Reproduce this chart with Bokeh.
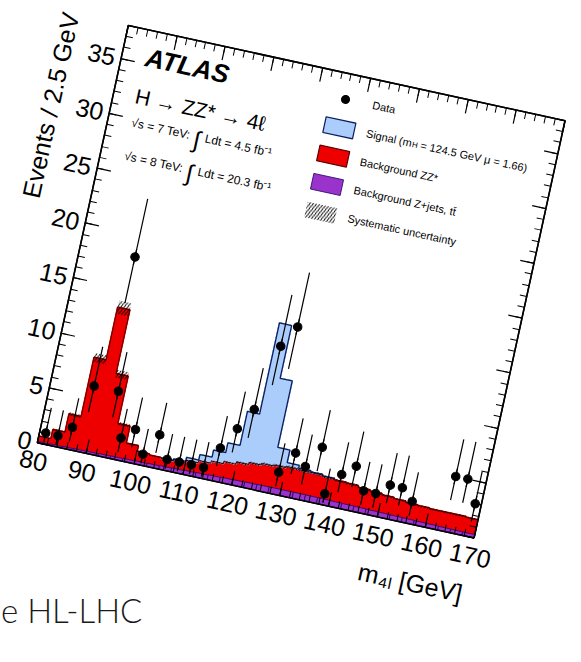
import numpy as np
from bokeh.plotting import figure
from bokeh.models import (Range1d, LinearAxis, SingleIntervalTicker, Label, Title,
                          Legend, LegendItem, InlineStyleSheet, CustomLabelingPolicy, Div)
from bokeh.embed import file_html
from bokeh.resources import INLINE

# ---------------- data ----------------
bin_centers = [81.25, 83.75, 86.25, 88.75, 91.25, 93.75, 96.25, 98.75, 101.25,
               103.75, 106.25, 108.75, 111.25, 113.75, 116.25, 118.75, 121.25,
               123.75, 126.25, 128.75, 131.25, 133.75, 136.25, 138.75, 141.25,
               143.75, 146.25, 148.75, 151.25, 153.75, 156.25, 158.75, 161.25,
               163.75, 166.25, 168.75]
bin_width = 2.5

data_counts = [1, 1, 2, 6, 18, 6, 2, 3, 1, 3, 1, 1, 1, 1, 3, 5, 7, 13, 15, 2, 4,
               3, 5, 1, 3, 4, 2, 2, 3, 3, 2, 0, 0, 5, 5, 3]
data_err_low = [0.83, 0.83, 1.29, 2.38, 4.21, 2.38, 1.29, 1.63, 0.83, 1.63, 0.83,
                0.83, 0.83, 0.83, 1.63, 2.16, 2.58, 3.55, 3.83, 1.29, 1.91, 1.63,
                2.16, 0.83, 1.63, 1.91, 1.29, 1.29, 1.63, 1.63, 1.29, 0, 0, 2.16,
                2.16, 1.63]
data_err_high = [2.30, 2.30, 2.64, 3.58, 5.30, 3.58, 2.64, 2.92, 2.30, 2.92, 2.30,
                 2.30, 2.30, 2.30, 2.92, 3.38, 3.77, 4.67, 4.95, 2.64, 3.16, 2.92,
                 3.38, 2.30, 2.92, 3.16, 2.64, 2.64, 2.92, 2.92, 2.64, 0, 0, 3.38,
                 3.38, 2.92]

bkg_zjets = [0.12, 0.14, 0.16, 0.18, 0.20, 0.22, 0.24, 0.26, 0.28, 0.30, 0.33,
             0.36, 0.39, 0.42, 0.45, 0.48, 0.50, 0.52, 0.54, 0.55, 0.55, 0.55,
             0.54, 0.53, 0.51, 0.49, 0.47, 0.45, 0.43, 0.41, 0.39, 0.37, 0.35,
             0.33, 0.31, 0.30]
bkg_zz = [0.48, 1.31, 2.94, 8.32, 13.10, 7.28, 2.96, 1.39, 0.87, 0.75, 0.67,
          0.74, 0.91, 1.08, 1.25, 1.42, 1.60, 1.78, 1.91, 2.00, 2.10, 2.05, 2.06,
          1.97, 1.89, 1.86, 1.73, 1.65, 1.57, 1.49, 1.41, 1.38, 1.35, 1.37, 1.39,
          1.35]
signal = [0, 0, 0, 0, 0, 0, 0, 0, 0, 0, 0.03, 0.08, 0.25, 0.55, 1.00, 1.70,
          4.60, 12.70, 7.75, 1.60, 0.35, 0.15, 0.05, 0.02, 0, 0, 0, 0, 0, 0, 0,
          0, 0, 0, 0, 0]
syst_unc = [0.03, 0.07, 0.15, 0.40, 0.60, 0.35, 0.15, 0.08, 0.06, 0.05, 0.05,
            0.05, 0.06, 0.07, 0.08, 0.09, 0.10, 0.11, 0.12, 0.12, 0.13, 0.13,
            0.13, 0.12, 0.12, 0.12, 0.11, 0.10, 0.10, 0.10, 0.09, 0.09, 0.09,
            0.09, 0.09, 0.08]

x_ticks_major = 10
y_ticks_major = 5

# ---------------- style ----------------
RED = "#ee0000"
RED_LINE = "#5a0000"
BLUE = "#abcdfb"
NAVY = "#0c1d5e"
PURPLE = "#9a33cc"
PURPLE_LINE = "#2a0a6a"
FONT = "Liberation Sans"

FW, FH = 447, 427
ML, MB, MT, MR = 85, 85, 10, 10

p = figure(frame_width=FW, frame_height=FH, min_border_left=ML, min_border_bottom=MB,
           min_border_top=MT, min_border_right=MR,
           x_range=Range1d(80, 170), y_range=Range1d(0, 38),
           output_backend="svg", toolbar_location=None, x_axis_location=None,
           y_axis_location=None)
p.grid.visible = False
p.outline_line_color = "black"
p.outline_line_width = 1.5
p.background_fill_color = "white"
p.border_fill_color = "white"

hide_labels = CustomLabelingPolicy(code="""
try { for (const i of Array.from(indices)) { indices.unset(i) } } catch (e) {}
return indices
""")


def make_axis(kind, ticker_interval, show_labels):
    ax = LinearAxis(ticker=SingleIntervalTicker(interval=ticker_interval, num_minor_ticks=5))
    ax.major_tick_in = 14
    ax.major_tick_out = 0
    ax.minor_tick_in = 7
    ax.minor_tick_out = 0
    ax.axis_line_color = "black"
    ax.axis_line_width = 1.5
    ax.major_tick_line_width = 1.2
    ax.minor_tick_line_width = 1.0
    ax.major_label_text_font = FONT
    if show_labels:
        ax.major_label_text_font_size = "25px"
        ax.major_label_text_color = "black"
        ax.major_label_standoff = 9 if kind == "x" else 6
    else:
        ax.major_label_policy = hide_labels
        ax.major_label_text_font_size = "1px"
        ax.major_label_standoff = 0
    return ax


p.add_layout(make_axis("x", x_ticks_major, True), "below")
p.add_layout(make_axis("x", x_ticks_major, False), "above")
p.add_layout(make_axis("y", y_ticks_major, True), "left")
p.add_layout(make_axis("y", y_ticks_major, False), "right")

p.add_layout(Title(text="Events / 2.5 GeV", align="right", text_font=FONT,
                   text_font_size="25px", text_font_style="normal", text_color="black",
                   standoff=16), "left")
p.add_layout(Title(text="m\u2084\u2097 [GeV]", align="right", text_font=FONT,
                   text_font_size="25px", text_font_style="normal", text_color="black",
                   standoff=22), "below")

# ---------------- stacked histograms ----------------
c = np.array(bin_centers)
left = c - bin_width / 2
right = c + bin_width / 2
zj = np.array(bkg_zjets)
zz = np.array(bkg_zz)
sg = np.array(signal)
unc = np.array(syst_unc)
b_zj = zj
b_bkg = zj + zz
b_tot = b_bkg + sg
has_sig = sg > 0

# outlined versions (legend swatches); their inner edges get covered by the fills below
r_sig_leg = p.quad(left=left[has_sig], right=right[has_sig], bottom=b_bkg[has_sig],
                   top=b_tot[has_sig], fill_color=BLUE, line_color=NAVY, line_width=1.2)
r_zz_leg = p.quad(left=left, right=right, bottom=b_zj, top=b_bkg, fill_color=RED,
                  line_color=RED_LINE, line_width=1.2)

p.quad(left=left, right=right, bottom=0, top=b_bkg, fill_color=RED, line_color=RED,
       line_width=1.8)
p.quad(left=left[has_sig], right=right[has_sig], bottom=b_bkg[has_sig],
       top=b_tot[has_sig], fill_color=BLUE, line_color=BLUE, line_width=1.8)
r_zj = p.quad(left=left, right=right, bottom=0, top=b_zj, fill_color=PURPLE,
              line_color=PURPLE_LINE, line_width=0.8)


def step_xy(lft, rgt, vals):
    xs, ys = [], []
    for l_, r_, v in zip(lft, rgt, vals):
        xs += [l_, r_]
        ys += [v, v]
    return xs, ys


xs, ys = step_xy(left, right, b_bkg)
p.line(xs, ys, line_color=RED_LINE, line_width=1.0)
idx = np.where(has_sig)[0]
xs, ys = step_xy(left[idx], right[idx], b_tot[idx])
xs = [xs[0]] + xs + [xs[-1]]
ys = [b_bkg[idx[0]]] + ys + [b_bkg[idx[-1]]]
p.line(xs, ys, line_color=NAVY, line_width=1.3)

r_unc = p.quad(left=left, right=right, bottom=b_bkg - unc, top=b_bkg + unc,
               fill_color=None, line_color=None, hatch_pattern="/", hatch_color="black",
               hatch_scale=6, hatch_weight=1.0)

# ---------------- data ----------------
cnt = np.array(data_counts, dtype=float)
el = np.array(data_err_low)
eh = np.array(data_err_high)
m = cnt > 0
p.segment(x0=c[m], y0=(cnt - el)[m], x1=c[m], y1=(cnt + eh)[m], line_color="black",
          line_width=1.2)
# short vertical dashes hidden inside the error bars (give the legend its bar)
r_data_bar = p.scatter(c[m], cnt[m], marker="dash", angle=np.pi / 2, size=16,
                       line_color="black", line_width=1.2)
r_data = p.scatter(c[m], cnt[m], size=8.5, color="black")

# ---------------- legend ----------------
legend = Legend(items=[
    LegendItem(label="Data", renderers=[r_data_bar, r_data]),
    LegendItem(label="Signal (m   = 124.5 GeV \u03bc = 1.66)", renderers=[r_sig_leg]),
    LegendItem(label="Background ZZ*", renderers=[r_zz_leg]),
    LegendItem(label="Background Z+jets, tt\u0304", renderers=[r_zj]),
    LegendItem(label="Systematic uncertainty", renderers=[r_unc]),
], location=(209, 275), orientation="vertical", glyph_width=38, glyph_height=20,
    label_height=20, spacing=9, padding=0, margin=0, label_standoff=9,
    border_line_alpha=0, background_fill_alpha=0, label_text_font=FONT,
    label_text_font_size="11px", label_text_color="black")
p.add_layout(legend)


def lab(text, x, y, size, style="normal", align="left", baseline="alphabetic"):
    p.add_layout(Label(text=text, x=x, y=y, x_units="screen", y_units="screen",
                       text_font=FONT, text_font_size=size, text_font_style=style,
                       text_align=align, text_baseline=baseline, text_color="black"))


lab("H", 302.5, FH - 56, "8px")
lab("ATLAS", 24, FH - 27, "26px", "bold italic")
lab("H \u2192 ZZ* \u2192 4\u2113", 22, FH - 67, "21px")
lab("\u221as = 7 TeV:", 24, FH - 94, "12px")
lab("\u222b", 88, FH - 97, "24px")
lab("Ldt = 4.5 fb\u207b\u00b9", 99, FH - 94, "12px")
lab("\u221as = 8 TeV:", 24, FH - 128, "12px")
lab("\u222b", 88, FH - 131, "24px")
lab("Ldt = 20.3 fb\u207b\u00b9", 99, FH - 128, "12px")

# ---------------- rotation of the whole plot element ----------------
ANG = 12.3
p.stylesheets = [InlineStyleSheet(css=(
    ":host { transform-origin: 0 0; transform: translate(47px, -3px) rotate(%.2fdeg); }" % ANG))]

# slide text visible below the chart (separate root, not rotated)
slide_text = Div(text="e HL-LHC", width=200, height=40, margin=(68, 0, 0, 1),
                 styles={"font-family": "Lato", "font-weight": "300",
                         "font-size": "33px", "color": "#1a1a1a", "line-height": "40px",
                         "white-space": "nowrap"})

open("out.html", "w").write(file_html([p, slide_text], INLINE))
